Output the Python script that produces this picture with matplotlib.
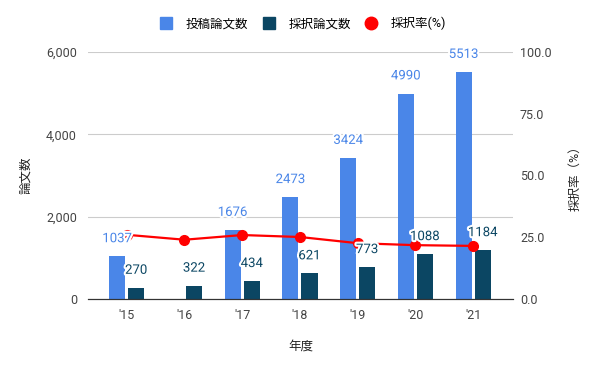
import numpy as np
import matplotlib
matplotlib.use("Agg")
import matplotlib.pyplot as plt
import matplotlib.patheffects as pe
from matplotlib.lines import Line2D
from matplotlib.ticker import FuncFormatter

plt.rcParams['font.family'] = ['Roboto', 'Noto Sans CJK JP', 'DejaVu Sans']

# données
years = ["'15", "'16", "'17", "'18", "'19", "'20", "'21"]
submitted = [1037, np.nan, 1676, 2473, 3424, 4990, 5513]
accepted = [270, 322, 434, 621, 773, 1088, 1184]
rate = [26.0, 24.0, 25.9, 25.1, 22.6, 21.8, 21.5]

BLUE = '#4a86e8'
DARK = '#0b4663'
RED = '#ff0000'

fig = plt.figure(figsize=(6, 3.71), dpi=100)
ax = fig.add_axes([0.1467, 0.194, 0.7083, 0.666])
ax2 = ax.twinx()

x = np.arange(len(years))
w = 0.28
off = 0.165
ax.bar(x - off, submitted, w, color=BLUE, zorder=2)
ax.bar(x + off, accepted, w, color=DARK, zorder=2)

ax2.plot(x, rate, color=RED, lw=1.6, marker='o', markersize=7, zorder=3)

# étiquettes sur l'axe du dessus pour passer devant la courbe
halo = [pe.withStroke(linewidth=3, foreground='white')]
for i in range(len(years)):
    if not np.isnan(submitted[i]):
        ax2.annotate(f"{int(submitted[i])}", (x[i] - off, submitted[i]), xycoords=ax.transData,
                     xytext=(0, 8), textcoords='offset points', ha='center', va='bottom',
                     fontsize=9.5, color=BLUE, path_effects=halo, zorder=5)
    ax2.annotate(f"{accepted[i]}", (x[i] + off, accepted[i]), xycoords=ax.transData,
                 xytext=(0, 8), textcoords='offset points', ha='center', va='bottom',
                 fontsize=9.5, color=DARK, path_effects=halo, zorder=5)

ax.set_xlim(-0.67, 6.69)
ax.set_ylim(0, 6000)
ax2.set_ylim(0, 100)
ax.set_yticks([0, 2000, 4000, 6000])
ax.yaxis.set_major_formatter(FuncFormatter(lambda v, p: f"{int(v):,}"))
ax2.set_yticks([0, 25, 50, 75, 100])
ax2.yaxis.set_major_formatter(FuncFormatter(lambda v, p: f"{v:.1f}"))
ax.set_xticks(x)
ax.set_xticklabels(years)

ax.grid(axis='y', color='#cccccc', lw=0.8, zorder=0)
for a in (ax, ax2):
    for s in ['top', 'left', 'right']:
        a.spines[s].set_visible(False)
    a.spines['bottom'].set_color('#333333')
    a.tick_params(length=0, labelsize=9, colors='#444444')
ax.tick_params(axis='y', pad=8)
ax2.tick_params(axis='y', pad=5)
ax.tick_params(axis='x', pad=7)

ax.set_ylabel("論文数", fontsize=9, color='#222222', labelpad=10)
ax2.set_ylabel("採択率（%）", fontsize=9, color='#222222', labelpad=12)
ax.set_xlabel("年度", fontsize=9, color='#222222', labelpad=13)

handles = [Line2D([], [], ls='', marker='s', markersize=9, color=BLUE),
           Line2D([], [], ls='', marker='s', markersize=9, color=DARK),
           Line2D([], [], ls='', marker='o', markersize=9, color=RED)]
fig.legend(handles, ["投稿論文数", "採択論文数", "採択率(%)"], loc='upper center',
           bbox_to_anchor=(0.5, 0.985), ncol=3, frameon=False, fontsize=9,
           handletextpad=0.6, columnspacing=0.6)

fig.savefig("out.png", dpi=100)
